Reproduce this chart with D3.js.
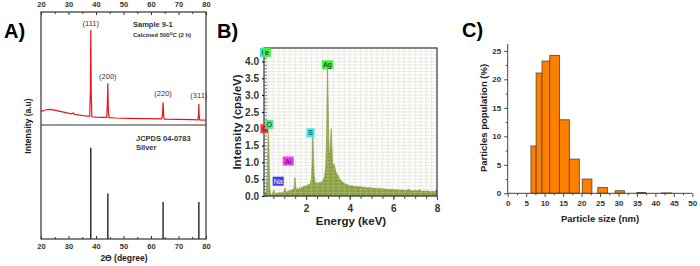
<!DOCTYPE html>
<html>
<head>
<meta charset="utf-8">
<script src="https://cdn.jsdelivr.net/npm/d3@7"></script>
<style>
  body { margin: 0; background: #fff; }
  text { font-family: "Liberation Sans", Arial, sans-serif; }
</style>
</head>
<body>
<div id="chart"></div>
<script>
// ---- A) XRD pattern ----
var xrdTicks = [20, 30, 40, 50, 60, 70, 80];
var xrdAngle = [20, 21, 22, 23.3, 25, 27, 29, 31, 31.7, 32, 33, 35, 37, 37.7, 37.95, 38.1, 38.25, 38.5, 40, 42, 43.9, 44.15, 44.3, 44.45, 44.7, 47, 52, 58, 63.9, 64.2, 64.4, 64.6, 64.9, 70, 75, 77.1, 77.3, 77.4, 77.5, 77.7, 80];
var xrdCounts = [11.8, 12.8, 13.5, 13.9, 13.2, 12.1, 11.0, 9.9, 10.6, 9.6, 9.1, 8.4, 7.8, 7.6, 30, 84, 28, 7.3, 7.0, 6.8, 6.7, 20, 37, 15, 6.5, 6.2, 5.9, 5.6, 5.4, 9, 20, 8, 5.2, 5.0, 4.7, 4.6, 10, 18.5, 9, 4.5, 4.4];
var peakLabels = ["(111)", "(200)", "(220)", "(311)"];
var refAngle = [38.1, 44.3, 64.4, 77.4];
var refIntensity = [80, 40, 32.5, 32.5];

// ---- B) EDS spectrum ----
var edsTicksX = [2, 4, 6, 8];
var edsTicksY = [0, 0.5, 1, 1.5, 2, 2.5, 3, 3.5, 4];
var edsEnergy = [0.07,0.12,0.18,0.22,0.25,0.27,0.29,0.31,0.34,0.38,0.42,0.47,0.5,0.53,0.56,0.6,0.65,0.7,0.75,0.8,0.85,0.9,0.95,1.0,1.04,1.08,1.12,1.17,1.22,1.27,1.32,1.37,1.42,1.46,1.49,1.52,1.56,1.6,1.65,1.7,1.75,1.8,1.85,1.9,1.95,2.0,2.05,2.1,2.15,2.2,2.25,2.28,2.31,2.34,2.37,2.41,2.45,2.5,2.55,2.6,2.65,2.7,2.75,2.8,2.85,2.9,2.94,2.96,2.98,3.0,3.03,3.06,3.09,3.12,3.15,3.18,3.21,3.25,3.29,3.33,3.37,3.42,3.47,3.52,3.57,3.62,3.68,3.74,3.8,3.87,3.94,4.0,4.1,4.2,4.3,4.4,4.5,4.6,4.7,4.8,4.9,5.0,5.1,5.2,5.3,5.4,5.5,5.6,5.7,5.8,5.9,6.0,6.1,6.2,6.3,6.4,6.5,6.6,6.7,6.8,6.9,7.0,7.1,7.2,7.3,7.4,7.5,7.6,7.7,7.8,7.9,8.0];
var edsCps = [0.02,0.05,0.15,0.6,1.5,1.85,1.7,0.9,0.2,0.05,0.03,0.08,0.15,0.18,0.07,0.04,0.1,0.06,0.08,0.12,0.07,0.1,0.13,0.16,0.24,0.13,0.1,0.16,0.13,0.18,0.15,0.2,0.18,0.3,0.55,0.3,0.17,0.22,0.19,0.25,0.21,0.27,0.24,0.3,0.26,0.32,0.28,0.35,0.31,0.4,0.55,1.1,1.8,1.2,0.6,0.42,0.36,0.4,0.33,0.42,0.37,0.44,0.4,0.5,0.6,0.9,1.8,3.0,3.85,3.2,2.0,1.3,1.2,1.6,2.0,1.5,1.0,0.85,0.95,0.8,0.72,0.65,0.6,0.52,0.48,0.45,0.41,0.38,0.36,0.34,0.33,0.3,0.31,0.28,0.29,0.27,0.28,0.25,0.26,0.24,0.25,0.23,0.24,0.22,0.23,0.21,0.22,0.2,0.21,0.19,0.2,0.19,0.18,0.19,0.17,0.18,0.17,0.16,0.2,0.16,0.15,0.17,0.15,0.19,0.14,0.15,0.14,0.15,0.13,0.14,0.13,0.2];
// element tags: label, keV, cps, colour
var elemNames = ["F", "e", "Ag", "C", "O", "S", "Al", "Na"];
var elemKeV = [0.07, 0.2, 2.98, 0.09, 0.31, 2.2, 1.18, 0.72];
var elemCps = [4.27, 4.27, 3.9, 2.0, 2.13, 1.88, 1.04, 0.44];
var elemColors = ["#2fe3e3", "#3ef03e", "#3ef03e", "#f03a3a", "#4fe88a", "#3ee6f3", "#f03cf0", "#3a3af0"];

// ---- C) size histogram ----
var sizeTicks = [0, 5, 10, 15, 20, 25, 30, 35, 40, 45, 50];
var popTicks = [0, 5, 10, 15, 20, 25];
var binStart = [6.3, 7.7, 9.3, 11.4, 14.0, 16.7, 20.2, 24.4, 29.1, 35.0, 41.7];
var binEnd = [7.7, 9.3, 11.4, 14.0, 16.7, 19.4, 22.8, 27.0, 31.6, 37.4, 44.4];
var population = [8.3, 21.1, 23.2, 24.2, 12.9, 6.0, 2.5, 1.0, 0.45, 0.15, 0.06];

var svg = d3.select("#chart").append("svg")
	.attr("width", 700)
	.attr("height", 266);

// panel letters
svg.append("text").attr("x", 4).attr("y", 38).text("A)")
	.attr("font-size", "20px").attr("font-weight", "bold");
svg.append("text").attr("x", 217).attr("y", 38).text("B)")
	.attr("font-size", "20px").attr("font-weight", "bold");
svg.append("text").attr("x", 462).attr("y", 37).text("C)")
	.attr("font-size", "20px").attr("font-weight", "bold");

//==================== A ====================
var xA = d3.scaleLinear().domain([20, 80]).range([41, 206]);
var yTop = d3.scaleLinear().domain([0, 100]).range([125, 12]);
var yBot = d3.scaleLinear().domain([0, 100]).range([239, 125]);
var gA = svg.append("g");

gA.append("rect").attr("x", 41).attr("y", 12).attr("width", 165).attr("height", 227)
	.attr("fill", "none").attr("stroke", "#333").attr("stroke-width", 1.2);
gA.append("line").attr("x1", 41).attr("x2", 206).attr("y1", 125).attr("y2", 125)
	.attr("stroke", "#333").attr("stroke-width", 1.2);

var minorA = d3.range(25, 80, 10);
var topAxis = gA.append("g").attr("transform", "translate(0,12)")
	.call(d3.axisTop(xA).tickValues(xrdTicks).tickSize(-3).tickPadding(5));
var botAxis = gA.append("g").attr("transform", "translate(0,239)")
	.call(d3.axisBottom(xA).tickValues(xrdTicks).tickSize(-3).tickPadding(5));
[topAxis, botAxis].forEach(function(ax) {
	ax.select(".domain").remove();
	ax.selectAll("line").attr("stroke", "#333");
	ax.selectAll("text").attr("font-size", "7.5px").attr("font-weight", "bold")
		.attr("fill", "#333").attr("font-family", "Liberation Sans, Arial");
});
gA.append("g").attr("transform", "translate(0,12)")
	.call(d3.axisTop(xA).tickValues(minorA).tickSize(-2).tickFormat(""))
	.call(function(g) { g.select(".domain").remove(); g.selectAll("line").attr("stroke", "#333"); });
gA.append("g").attr("transform", "translate(0,239)")
	.call(d3.axisBottom(xA).tickValues(minorA).tickSize(-2).tickFormat(""))
	.call(function(g) { g.select(".domain").remove(); g.selectAll("line").attr("stroke", "#333"); });

var xrdLine = d3.line()
	.x(function(d, i) { return xA(xrdAngle[i]); })
	.y(function(d) { return yTop(d); });
gA.append("path").datum(xrdCounts).attr("d", xrdLine)
	.attr("fill", "none").attr("stroke", "#e8141b").attr("stroke-width", 1.2);

gA.selectAll(".stick").data(refIntensity).enter().append("line")
	.attr("x1", function(d, i) { return xA(refAngle[i]); })
	.attr("x2", function(d, i) { return xA(refAngle[i]); })
	.attr("y1", yBot(0))
	.attr("y2", function(d) { return yBot(d); })
	.attr("stroke", "#222").attr("stroke-width", 1.4);

var labelHeights = [88, 41, 26, 23.5];
gA.selectAll(".plabel").data(peakLabels).enter().append("text")
	.attr("x", function(d, i) { return xA(refAngle[i]); })
	.attr("y", function(d, i) { return yTop(labelHeights[i]); })
	.attr("text-anchor", "middle")
	.attr("font-size", "7.5px").attr("fill", "#333")
	.text(function(d) { return d; });

gA.append("text").attr("x", 133).attr("y", 27).text("Sample 9-1")
	.attr("font-size", "7.5px").attr("font-weight", "bold").attr("fill", "#333");
var calc = gA.append("text").attr("x", 133).attr("y", 37)
	.attr("font-size", "6px").attr("font-weight", "bold").attr("fill", "#333");
calc.append("tspan").text("Calcined 500");
calc.append("tspan").attr("dy", -2).attr("font-size", "4.5px").text("o");
calc.append("tspan").attr("dy", 2).text("C (2 h)");

gA.append("text").attr("x", 136).attr("y", 141).text("JCPDS 04-0783")
	.attr("font-size", "7.5px").attr("font-weight", "bold").attr("fill", "#333");
gA.append("text").attr("x", 136).attr("y", 150).text("Silver")
	.attr("font-size", "7.5px").attr("font-weight", "bold").attr("fill", "#333");

gA.append("text").attr("transform", "translate(31,126) rotate(-90)")
	.attr("text-anchor", "middle").text("Intensity (a.u)")
	.attr("font-size", "8.5px").attr("font-weight", "bold").attr("fill", "#222");
gA.append("text").attr("x", 124).attr("y", 261).attr("text-anchor", "middle")
	.text("2\u0398 (degree)")
	.attr("font-size", "8.5px").attr("font-weight", "bold").attr("fill", "#222");

//==================== B ====================
var xB = d3.scaleLinear().domain([0.07, 8]).range([264, 437]);
var yB = d3.scaleLinear().domain([0, 4.4]).range([196, 48]);
var gB = svg.append("g");

// light grid, drawn under the spectrum and again faintly over it
function drawGrid(g, col, op) {
	g.selectAll(null).data(d3.range(0.1, 4.4, 0.1)).enter().append("line")
		.attr("x1", 264).attr("x2", 437)
		.attr("y1", function(d) { return yB(d); }).attr("y2", function(d) { return yB(d); })
		.attr("stroke", col).attr("stroke-opacity", op).attr("stroke-width", 0.8);
	g.selectAll(null).data(d3.range(0.25, 8, 0.25)).enter().append("line")
		.attr("y1", 48).attr("y2", 196)
		.attr("x1", function(d) { return xB(d); }).attr("x2", function(d) { return xB(d); })
		.attr("stroke", col).attr("stroke-opacity", op).attr("stroke-width", 0.8);
}
drawGrid(gB.append("g"), "#e4e4dc", 1);

var edsArea = d3.area()
	.x(function(d, i) { return xB(edsEnergy[i]); })
	.y0(yB(0))
	.y1(function(d) { return yB(d); });
var clip = gB.append("clipPath").attr("id", "edsClip");
clip.append("path").datum(edsCps).attr("d", edsArea);
gB.append("path").datum(edsCps).attr("d", edsArea)
	.attr("fill", "#8aa040").attr("stroke", "#7d9236").attr("stroke-width", 0.6);
drawGrid(gB.append("g").attr("clip-path", "url(#edsClip)"), "#ffffff", 0.22);

gB.append("rect").attr("x", 264).attr("y", 48).attr("width", 173).attr("height", 148)
	.attr("fill", "none").attr("stroke", "#444").attr("stroke-width", 1.3);

// ruler ticks on the y axis
gB.append("g").attr("transform", "translate(264,0)")
	.call(d3.axisRight(yB).tickValues(d3.range(0, 4.35, 0.1)).tickSize(3).tickFormat(""))
	.call(function(g) { g.select(".domain").remove(); g.selectAll("line").attr("stroke", "#555").attr("stroke-width", 0.7); });
var yAxB = gB.append("g").attr("transform", "translate(264,0)")
	.call(d3.axisLeft(yB).tickValues(edsTicksY).tickSize(2).tickPadding(3).tickFormat(d3.format(".1f")));
yAxB.select(".domain").remove();
yAxB.selectAll("text").attr("font-size", "10px").attr("font-weight", "bold").attr("fill", "#333")
	.attr("font-family", "Liberation Sans, Arial");

gB.append("g").attr("transform", "translate(0,196)")
	.call(d3.axisBottom(xB).tickValues(d3.range(0.5, 8.01, 0.5)).tickSize(3).tickFormat(""))
	.call(function(g) { g.select(".domain").remove(); g.selectAll("line").attr("stroke", "#444"); });
var xAxB = gB.append("g").attr("transform", "translate(0,196)")
	.call(d3.axisBottom(xB).tickValues(edsTicksX).tickSize(4).tickPadding(5));
xAxB.select(".domain").remove();
xAxB.selectAll("line").attr("stroke", "#444");
xAxB.selectAll("text").attr("font-size", "10px").attr("font-weight", "bold").attr("fill", "#333")
	.attr("font-family", "Liberation Sans, Arial");

// element tags
var tags = gB.selectAll(".tag").data(elemNames).enter().append("g")
	.attr("transform", function(d, i) { return "translate(" + xB(elemKeV[i]) + "," + yB(elemCps[i]) + ")"; });
tags.append("rect")
	.attr("x", function(d) { return d.length > 1 ? -5.5 : -4; })
	.attr("y", -4.5)
	.attr("width", function(d) { return d.length > 1 ? 11 : 8; })
	.attr("height", 9)
	.attr("fill", function(d, i) { return elemColors[i]; });
tags.append("text").attr("text-anchor", "middle").attr("y", 2.5)
	.attr("font-size", "7px")
	.attr("fill", function(d) { return d == "Na" ? "#fff" : "#222"; })
	.text(function(d) { return d; });

gB.append("text").attr("transform", "translate(241,122) rotate(-90)")
	.attr("text-anchor", "middle").text("Intensity (cps/eV)")
	.attr("font-size", "11.5px").attr("font-weight", "bold").attr("fill", "#222");
gB.append("text").attr("x", 351).attr("y", 225).attr("text-anchor", "middle")
	.text("Energy (keV)")
	.attr("font-size", "11.5px").attr("font-weight", "bold").attr("fill", "#222");

//==================== C ====================
var xC = d3.scaleLinear().domain([0, 50]).range([507.7, 692.3]);
var yC = d3.scaleLinear().domain([0, 26.2]).range([193.3, 44]);
var gC = svg.append("g");

gC.selectAll(".bar").data(population).enter().append("rect")
	.attr("x", function(d, i) { return xC(binStart[i]); })
	.attr("width", function(d, i) { return xC(binEnd[i]) - xC(binStart[i]); })
	.attr("y", function(d) { return yC(d); })
	.attr("height", function(d) { return yC(0) - yC(d); })
	.attr("fill", "#ff8000").attr("stroke", "#6b4a2a").attr("stroke-width", 0.9);

gC.append("line").attr("x1", xC(0)).attr("x2", xC(50)).attr("y1", yC(0)).attr("y2", yC(0))
	.attr("stroke", "#444").attr("stroke-width", 1);
gC.append("line").attr("x1", xC(0)).attr("x2", xC(0)).attr("y1", yC(0)).attr("y2", yC(26.2))
	.attr("stroke", "#444").attr("stroke-width", 1);

gC.append("g").attr("transform", "translate(0," + yC(0) + ")")
	.call(d3.axisBottom(xC).tickValues(d3.range(2.5, 50, 5)).tickSize(2).tickFormat(""))
	.call(function(g) { g.select(".domain").remove(); g.selectAll("line").attr("stroke", "#444"); });
var xAxC = gC.append("g").attr("transform", "translate(0," + yC(0) + ")")
	.call(d3.axisBottom(xC).tickValues(sizeTicks).tickSize(3.5).tickPadding(4));
xAxC.select(".domain").remove();
xAxC.selectAll("line").attr("stroke", "#444");
xAxC.selectAll("text").attr("font-size", "8px").attr("font-weight", "bold").attr("fill", "#333")
	.attr("font-family", "Liberation Sans, Arial");

gC.append("g").attr("transform", "translate(" + xC(0) + ",0)")
	.call(d3.axisLeft(yC).tickValues(d3.range(2.5, 26, 5)).tickSize(2).tickFormat(""))
	.call(function(g) { g.select(".domain").remove(); g.selectAll("line").attr("stroke", "#444"); });
var yAxC = gC.append("g").attr("transform", "translate(" + xC(0) + ",0)")
	.call(d3.axisLeft(yC).tickValues(popTicks).tickSize(3.5).tickPadding(3));
yAxC.select(".domain").remove();
yAxC.selectAll("line").attr("stroke", "#444");
yAxC.selectAll("text").attr("font-size", "8px").attr("font-weight", "bold").attr("fill", "#333")
	.attr("font-family", "Liberation Sans, Arial");

gC.append("text").attr("transform", "translate(487,118) rotate(-90)")
	.attr("text-anchor", "middle").text("Particles population (%)")
	.attr("font-size", "9.5px").attr("font-weight", "bold").attr("fill", "#222");
gC.append("text").attr("x", 600).attr("y", 222).attr("text-anchor", "middle")
	.text("Particle size (nm)")
	.attr("font-size", "9.5px").attr("font-weight", "bold").attr("fill", "#222");
</script>
</body>
</html>
